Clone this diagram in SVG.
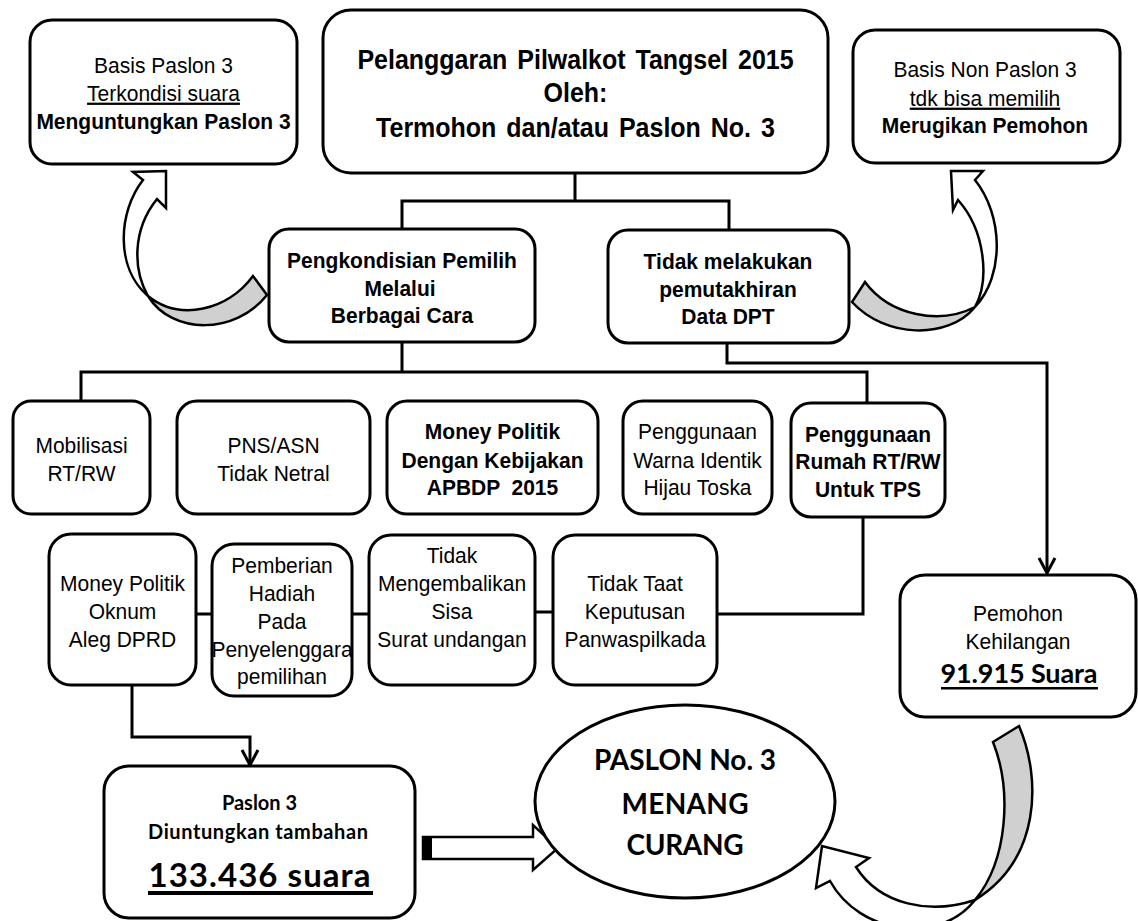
<svg xmlns="http://www.w3.org/2000/svg" width="1138" height="921" viewBox="0 0 1138 921">
<defs>
<style>
.box{fill:#fff;stroke:#000;stroke-width:3}
.conn{fill:none;stroke:#000;stroke-width:3}
.rib{fill:#fff;stroke:#000;stroke-width:2.5;stroke-linejoin:miter}
.grey{fill:#d0d0d0;stroke:#000;stroke-width:2.5}
.t{font-family:"Liberation Sans",Arial,sans-serif;font-size:21px;text-anchor:middle;fill:#000;transform-box:fill-box;transform-origin:center;transform:scaleY(1.08)}
.b{font-weight:bold}
.h{font-size:25px;font-weight:bold;word-spacing:3px}
.c{font-family:Lato,"Liberation Sans",sans-serif;font-weight:bold;text-anchor:middle;fill:#000}
</style>
<marker id="arr" viewBox="0 0 20 20" refX="18" refY="10" markerWidth="20" markerHeight="20" markerUnits="userSpaceOnUse" orient="auto">
<path d="M3,2 L18,10 L3,18" fill="none" stroke="#000" stroke-width="3"/>
</marker>
</defs>
<rect width="1138" height="921" fill="#fff"/>

<g id="connectors">
<path class="conn" d="M575,173 V201 M402,229 V201 H729 V230"/>
<path class="conn" d="M402,342 V372 M81,401 V372 H867 V403"/>
<path class="conn" d="M727,343 V363 H1047 V573" marker-end="url(#arr)"/>
<path class="conn" d="M863,517 V614 H717"/>
<path class="conn" d="M535,612 H553 M352,614 H369 M196,614 H212"/>
<path class="conn" d="M132,685 V737 H250 V765" marker-end="url(#arr)"/>
<!-- curved arrow top-left -->
<path class="rib" d="M143,180 L133,172 L166,171 L166,208 L157,199 C132,230 133,270 148,296 C115,268 118,212 143,180 Z"/>
<path class="grey" d="M148,296 C172,335 235,335 267,295 L253,276 C228,310 180,322 148,296 Z"/>
<!-- curved arrow top-right -->
<path class="rib" d="M975,180 L983,171 L951,171 L953,210 L958,200 C985,230 990,280 975,307 C1005,275 1003,215 975,180 Z"/>
<path class="grey" d="M975,307 C948,340 885,338 852,302 L865,282 C890,316 940,325 975,307 Z"/>
<!-- curved arrow bottom-right -->
<path class="grey" d="M975,900 C1008,860 1012,790 993,742 L1019,726 C1042,780 1040,860 975,900 Z"/>
<path class="rib" d="M975,900 C930,915 880,905 856,867 L869,858 L822,846 L816,888 L830,881 C860,935 940,945 975,900 Z"/>
<!-- block arrow -->
<path class="rib" stroke-width="3" d="M423,837 H533 V825 L558,848 L533,870 V859 H423 Z"/>
<rect x="423" y="836" width="9" height="24" fill="#000"/>
</g>

<g id="n-basis3">
<rect class="box" x="30" y="20" width="267" height="144" rx="22"/>
<text class="t" x="163.5" y="72">Basis Paslon 3</text>
<text class="t" x="163.5" y="100" text-decoration="underline">Terkondisi suara</text>
<text class="t b" x="163.5" y="128">Menguntungkan Paslon 3</text>
</g>

<g id="n-main">
<rect class="box" x="323" y="10" width="505" height="163" rx="28"/>
<text class="t h" x="575.5" y="68">Pelanggaran Pilwalkot Tangsel 2015</text>
<text class="t h" x="575.5" y="101">Oleh:</text>
<text class="t h" x="575.5" y="136">Termohon dan/atau Paslon No. 3</text>
</g>

<g id="n-basisnon">
<rect class="box" x="853" y="30" width="267" height="133" rx="22"/>
<text class="t" x="985" y="76">Basis Non Paslon 3</text>
<text class="t" x="985" y="105" text-decoration="underline">tdk bisa memilih</text>
<text class="t b" x="985" y="132">Merugikan Pemohon</text>
</g>

<g id="n-pengkondisian">
<rect class="box" x="269" y="229" width="266" height="113" rx="20"/>
<text class="t b" x="402" y="267">Pengkondisian Pemilih</text>
<text class="t b" x="400" y="295">Melalui</text>
<text class="t b" x="402" y="322">Berbagai Cara</text>
</g>

<g id="n-dpt">
<rect class="box" x="608" y="230" width="241" height="113" rx="20"/>
<text class="t b" x="728" y="268">Tidak melakukan</text>
<text class="t b" x="728" y="296">pemutakhiran</text>
<text class="t b" x="728" y="323">Data DPT</text>
</g>

<g id="n-mobilisasi">
<rect class="box" x="13" y="401" width="137" height="113" rx="18"/>
<text class="t" x="81.5" y="452">Mobilisasi</text>
<text class="t" x="81.5" y="480">RT/RW</text>
</g>

<g id="n-pns">
<rect class="box" x="177" y="401" width="193" height="113" rx="20"/>
<text class="t" x="273.5" y="452">PNS/ASN</text>
<text class="t" x="273.5" y="480">Tidak Netral</text>
</g>

<g id="n-money">
<rect class="box" x="387" y="401" width="211" height="113" rx="20"/>
<text class="t b" x="492.5" y="438">Money Politik</text>
<text class="t b" x="492.5" y="467">Dengan Kebijakan</text>
<text class="t b" x="492.5" y="494" xml:space="preserve">APBDP  2015</text>
</g>

<g id="n-warna">
<rect class="box" x="623" y="401" width="149" height="113" rx="20"/>
<text class="t" x="697.5" y="438">Penggunaan</text>
<text class="t" x="697.5" y="467">Warna Identik</text>
<text class="t" x="697.5" y="494">Hijau Toska</text>
</g>

<g id="n-rumah">
<rect class="box" x="791" y="403" width="154" height="114" rx="20"/>
<text class="t b" x="868" y="441">Penggunaan</text>
<text class="t b" x="868" y="468">Rumah RT/RW</text>
<text class="t b" x="868" y="496">Untuk TPS</text>
</g>

<g id="n-oknum">
<rect class="box" x="49" y="534" width="147" height="151" rx="22"/>
<text class="t" x="122.5" y="590">Money Politik</text>
<text class="t" x="122.5" y="618">Oknum</text>
<text class="t" x="122.5" y="646">Aleg DPRD</text>
</g>

<g id="n-pemberian">
<rect class="box" x="212" y="544" width="140" height="152" rx="22"/>
<text class="t" x="282" y="572">Pemberian</text>
<text class="t" x="282" y="600">Hadiah</text>
<text class="t" x="282" y="628">Pada</text>
<text class="t" x="282" y="656">Penyelenggara</text>
<text class="t" x="282" y="683">pemilihan</text>
</g>

<g id="n-sisa">
<rect class="box" x="369" y="535" width="166" height="150" rx="22"/>
<text class="t" x="452" y="562">Tidak</text>
<text class="t" x="452" y="590">Mengembalikan</text>
<text class="t" x="452" y="618">Sisa</text>
<text class="t" x="452" y="646">Surat undangan</text>
</g>

<g id="n-taat">
<rect class="box" x="553" y="535" width="164" height="150" rx="22"/>
<text class="t" x="635" y="590">Tidak Taat</text>
<text class="t" x="635" y="618">Keputusan</text>
<text class="t" x="635" y="646">Panwaspilkada</text>
</g>

<g id="n-pemohon">
<rect class="box" x="900" y="575" width="236" height="142" rx="25"/>
<text class="t" x="1018" y="620">Pemohon</text>
<text class="t" x="1018" y="648">Kehilangan</text>
<text class="c" x="1019" y="683" font-size="27" textLength="157">91.915 Suara</text>
<rect x="941" y="687" width="157" height="2.5" fill="#000"/>
</g>

<g id="n-paslon3">
<rect class="box" x="104" y="766" width="311" height="152" rx="25"/>
<text class="c" x="259.5" y="810" font-size="20">Paslon 3</text>
<text class="c" x="258" y="839" font-size="20" textLength="220">Diuntungkan tambahan</text>
<text class="c" x="259.5" y="887" font-size="33" textLength="222">133.436 suara</text>
<rect x="148" y="891" width="225" height="4" fill="#000"/>
</g>

<g id="n-menang">
<ellipse class="box" cx="685" cy="801.5" rx="150" ry="96.5"/>
<text class="c" x="685" y="770" font-size="28" textLength="182">PASLON No. 3</text>
<text class="c" x="685" y="814" font-size="28" textLength="127">MENANG</text>
<text class="c" x="685" y="855" font-size="28" textLength="117">CURANG</text>
</g>
</svg>
